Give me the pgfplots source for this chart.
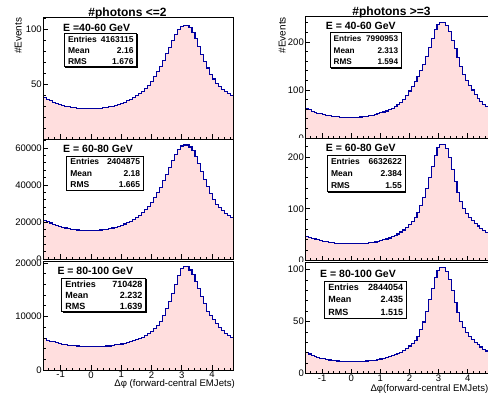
\documentclass[border=0pt]{standalone}
\usepackage{fontspec}
\setmainfont{Liberation Sans}
\usepackage{pgfplots}
\usepackage{pgfplotstable}
\pgfplotsset{compat=1.18}
\definecolor{histfill}{RGB}{255,222,222}
\definecolor{histline}{RGB}{0,0,160}

\pgfplotstableread{
x lt lm lb rt rm rb
-1.5708 0 0 0 0 0 0
-1.5708 37.6 20900 5810 61.6 47.0 20.1
-1.4726 36.1 20150 5585 58.6 45.0 18.7
-1.3744 34.7 19450 5390 56.0 43.0 17.6
-1.2763 33.5 18820 5260 53.8 41.5 16.6
-1.1781 32.4 18250 5077 51.8 40.0 15.7
-1.0799 31.4 17700 4958 50.2 38.7 14.8
-0.9817 30.6 17200 4820 48.9 37.4 14.1
-0.8836 29.9 16770 4748 47.5 36.2 13.5
-0.7854 29.3 16400 4659 46.3 35.1 13.0
-0.6872 28.8 16100 4610 45.3 34.3 12.6
-0.5890 28.4 15850 4524 44.5 33.5 12.2
-0.4909 28.1 15670 4480 43.9 33.0 12.0
-0.3927 27.9 15550 4410 43.3 32.6 11.8
-0.2945 27.7 15420 4405 42.9 32.4 11.7
-0.1963 27.6 15360 4390 42.7 32.2 11.6
-0.0982 27.5 15300 4375 42.5 32.0 11.5
0.0000 27.6 15360 4360 42.5 32.0 11.5
0.0982 27.7 15420 4340 42.7 32.2 11.5
0.1963 27.9 15550 4390 43.1 32.4 11.6
0.2945 28.1 15670 4430 43.7 32.6 11.7
0.3927 28.4 15850 4435 44.3 33.0 11.8
0.4909 28.8 16100 4480 45.3 33.5 12.0
0.5890 29.3 16400 4490 46.3 34.1 12.2
0.6872 29.9 16770 4584 47.5 34.9 12.5
0.7854 30.6 17200 4700 48.9 35.8 12.9
0.8836 31.4 17690 4748 50.4 37.0 13.3
0.9817 32.3 18240 4853 52.2 38.3 13.9
1.0799 33.4 18910 4930 54.2 39.9 14.5
1.1781 34.6 19640 5107 56.2 41.6 15.2
1.2763 36.0 20500 5256 58.8 43.5 16.0
1.3744 37.5 21420 5480 61.8 45.8 16.9
1.4726 39.2 22460 5630 65.2 48.3 18.0
1.5708 41.2 23680 5854 69.1 51.2 19.2
1.6690 43.4 25020 6153 74.1 55.0 20.6
1.7671 46.0 26610 6452 81.0 58.9 22.4
1.8653 49.0 28450 6780 89.0 63.7 24.2
1.9635 52.5 30590 7273 97.9 69.4 26.4
2.0617 56.5 33040 7796 106.9 76.2 28.7
2.1598 61.0 35790 8394 116.8 83.8 31.4
2.2580 66.0 38850 9141 127.7 93.4 35.9
2.3562 71.5 42210 10187 139.7 106.9 42.3
2.4544 77.5 45880 11450 152.6 122.2 49.5
2.5525 83.5 49550 12726 169.5 139.5 59.5
2.6507 89.5 53220 14370 188.3 160.6 71.2
2.7489 95.0 56580 15950 207.2 181.8 82.1
2.8471 99.5 59340 17657 225.1 202.9 92.0
2.9452 102.3 61050 18950 237.0 218.2 99.3
3.0434 103.2 61600 19300 241.0 224.0 102.0
3.1416 103.2 61600 19300 241.0 224.0 102.0
3.2398 101.5 60560 18700 235.0 216.3 98.4
3.3379 97.0 58500 17806 221.1 199.0 90.2
3.4361 91.0 55500 16461 203.2 176.0 79.4
3.5343 84.0 51500 15200 185.4 153.0 68.5
3.6325 77.0 47300 13772 167.5 131.8 58.6
3.7306 70.5 43000 12428 149.6 114.6 50.4
3.8288 64.5 39000 11000 131.7 101.1 44.1
3.9270 59.0 35300 10187 119.8 91.5 39.6
4.0252 54.5 32300 9365 108.9 83.8 35.9
4.1233 50.8 29550 8750 99.9 77.1 32.8
4.2215 47.8 27720 8020 91.0 71.4 30.1
4.3197 45.2 26130 7423 83.0 66.6 27.8
4.4179 43.0 24780 6850 76.1 61.8 25.5
4.5160 41.0 23560 6452 70.1 57.3 23.4
4.6142 39.3 22520 6108 65.5 53.5 21.6
4.7124 39.3 22520 6108 65.5 53.5 21.6
4.7124 0 0 0 0 0 0
}\datatable

\pgfplotsset{
  panel/.style={
    scale only axis, anchor=south west,
    xmin=-1.5708, xmax=4.7124, ymin=0,
    axis on top, clip=true,
    scaled y ticks=false, scaled x ticks=false,
    axis line style={line width=0.8pt, black},
    tick align=inside, xtick pos=left, ytick pos=left,
    xtick={-1,0,1,2,3,4},
    minor xtick={-1.4,-1.2,...,4.61},
    major tick length=4.5pt, minor tick length=2.3pt,
    tick style={line width=0.6pt, black},
    ticklabel style={font=\fontsize{9.5}{10}\selectfont},
    yticklabel style={inner xsep=1.5pt},
    xticklabel style={inner ysep=1.2pt},
    xticklabels={},
  },
  hfill/.style={const plot, fill=histfill, draw=none, forget plot},
  hline/.style={const plot, draw=histline, line width=1.1pt, mark=none},
}

\newcommand{\statbox}[8]{%
  \fill[black] ({#1+1.1},{#2+1.1}) rectangle ({#3+1.1},{#4+1.1});
  \filldraw[fill=white, draw=black, line width=0.7pt] (#1,#2) rectangle (#3,#4);
  \node[anchor=base west, inner sep=0pt, font=\fontsize{#8}{#8}\selectfont\bfseries] at ({#1+3.5},{#2+(#4-#2)*0.5/3+3.2}) {Entries};
  \node[anchor=base east, inner sep=0pt, font=\fontsize{#8}{#8}\selectfont\bfseries] at ({#3-3},{#2+(#4-#2)*0.5/3+3.2}) {#5};
  \node[anchor=base west, inner sep=0pt, font=\fontsize{#8}{#8}\selectfont\bfseries] at ({#1+3.5},{#2+(#4-#2)*1.5/3+3.2}) {Mean};
  \node[anchor=base east, inner sep=0pt, font=\fontsize{#8}{#8}\selectfont\bfseries] at ({#3-3},{#2+(#4-#2)*1.5/3+3.2}) {#6};
  \node[anchor=base west, inner sep=0pt, font=\fontsize{#8}{#8}\selectfont\bfseries] at ({#1+3.5},{#2+(#4-#2)*2.5/3+3.2}) {RMS};
  \node[anchor=base east, inner sep=0pt, font=\fontsize{#8}{#8}\selectfont\bfseries] at ({#3-3},{#2+(#4-#2)*2.5/3+3.2}) {#7};
}

\begin{document}
\begin{tikzpicture}
\useasboundingbox (0pt,0pt) rectangle (488pt,394pt);
\clip (0pt,0pt) rectangle (488pt,394pt);
\fill[white] (0pt,0pt) rectangle (488pt,394pt);

% ---- top row ----
\begin{axis}[panel, at={(43.4pt,255pt)}, width=190.2pt, height=122pt,
  ymax=110.9, ytick={0,50,100}, yticklabels={,50,100}, minor ytick={0,10,...,110}]
\addplot[hfill] table[x=x,y=lt]{\datatable} \closedcycle;
\addplot[hline] table[x=x,y=lt]{\datatable};
\end{axis}
\begin{axis}[panel, at={(305.5pt,256pt)}, width=183pt, height=122pt,
  ymax=254, ytick={0,100,200}, yticklabels={0,100,200}, minor ytick={0,20,...,240}]
\addplot[hfill] table[x=x,y=rt]{\datatable} \closedcycle;
\addplot[hline] table[x=x,y=rt]{\datatable};
\end{axis}

% ---- middle row ----
\fill[white] (0pt,0pt) rectangle (240pt,255pt);
\fill[white] (244pt,0pt) rectangle (488pt,256pt);
\begin{axis}[panel, at={(43.4pt,135pt)}, width=190.2pt, height=120pt,
  ymax=64865, ytick={0,20000,40000,60000}, yticklabels={0,20000,40000,60000},
  minor ytick={0,4000,...,64000}]
\addplot[hfill] table[x=x,y=lm]{\datatable} \closedcycle;
\addplot[hline] table[x=x,y=lm]{\datatable};
\end{axis}
\begin{axis}[panel, at={(305.5pt,133.5pt)}, width=183pt, height=122.5pt,
  ymax=236.7, ytick={0,100,200}, yticklabels={0,100,200}, minor ytick={0,20,...,220}]
\addplot[hfill] table[x=x,y=rm]{\datatable} \closedcycle;
\addplot[hline] table[x=x,y=rm]{\datatable};
\end{axis}

% ---- bottom row ----
\fill[white] (0pt,0pt) rectangle (240pt,133.5pt);
\fill[white] (244pt,0pt) rectangle (488pt,132pt);
\begin{axis}[panel, at={(43.4pt,24pt)}, width=190.2pt, height=108.5pt,
  ymax=20280, ytick={0,10000,20000}, yticklabels={0,10000,20000},
  minor ytick={0,2000,...,20000}, xticklabels={-1,0,1,2,3,4}]
\addplot[hfill] table[x=x,y=lb]{\datatable} \closedcycle;
\addplot[hline] table[x=x,y=lb]{\datatable};
\end{axis}
\begin{axis}[panel, at={(305.5pt,20.5pt)}, width=183pt, height=111.5pt,
  ymax=107.2, ytick={0,50,100}, yticklabels={0,50,100},
  minor ytick={0,10,...,100}, xticklabels={-1,0,1,2,3,4}]
\addplot[hfill] table[x=x,y=rb]{\datatable} \closedcycle;
\addplot[hline] table[x=x,y=rb]{\datatable};
\end{axis}

% ---- texts in pixel coordinates (origin top-left) ----
\begin{scope}[x=1pt, y=-1pt, shift={(0pt,394pt)}]
  \node[anchor=base, inner sep=0pt, font=\fontsize{12}{12}\selectfont\bfseries] at (127.5,16.5) {\#photons <=2};
  \node[anchor=base, inner sep=0pt, font=\fontsize{12}{12}\selectfont\bfseries] at (391.5,15.5) {\#photons >=3};

  \node[rotate=90, anchor=east, inner sep=0pt, font=\fontsize{10}{10}\selectfont] at (18.3,17.5) {\#Events};
  \node[rotate=90, anchor=east, inner sep=0pt, font=\fontsize{10}{10}\selectfont] at (282.3,17) {\#Events};

  \node[anchor=base east, inner sep=0pt, font=\fontsize{9.6}{10}\selectfont] at (235,387) {Δφ (forward-central EMJets)};
  \node[anchor=base east, inner sep=0pt, font=\fontsize{9.6}{10}\selectfont] at (488.5,392) {Δφ(forward-central EMJets)};

  \node[anchor=base west, inner sep=0pt, font=\fontsize{10.5}{11}\selectfont\bfseries] at (63,31.5) {E =40-60 GeV};
  \node[anchor=base west, inner sep=0pt, font=\fontsize{10.5}{11}\selectfont\bfseries] at (63,152.7) {E = 60-80 GeV};
  \node[anchor=base west, inner sep=0pt, font=\fontsize{10.5}{11}\selectfont\bfseries] at (57.3,275) {E = 80-100 GeV};
  \node[anchor=base west, inner sep=0pt, font=\fontsize{10.5}{11}\selectfont\bfseries] at (325.7,30) {E = 40-60 GeV};
  \node[anchor=base west, inner sep=0pt, font=\fontsize{10.5}{11}\selectfont\bfseries] at (325.7,151.7) {E = 60-80 GeV};
  \node[anchor=base west, inner sep=0pt, font=\fontsize{10.5}{11}\selectfont\bfseries] at (320,277.7) {E = 80-100 GeV};

  \statbox{64.3}{33.3}{136.7}{66.7}{4163115}{2.16}{1.676}{8.5}
  \statbox{66.7}{156}{143.3}{190}{2404875}{2.18}{1.665}{8.5}
  \statbox{61.7}{278.3}{145.7}{311.7}{710428}{2.232}{1.639}{9}
  \statbox{330}{32.3}{401.3}{67.7}{7990953}{2.313}{1.594}{8.2}
  \statbox{327.3}{155}{405}{191.7}{6632622}{2.384}{1.55}{8.5}
  \statbox{324.7}{281}{406.3}{318.3}{2844054}{2.435}{1.515}{9}
\end{scope}
\end{tikzpicture}
\end{document}
